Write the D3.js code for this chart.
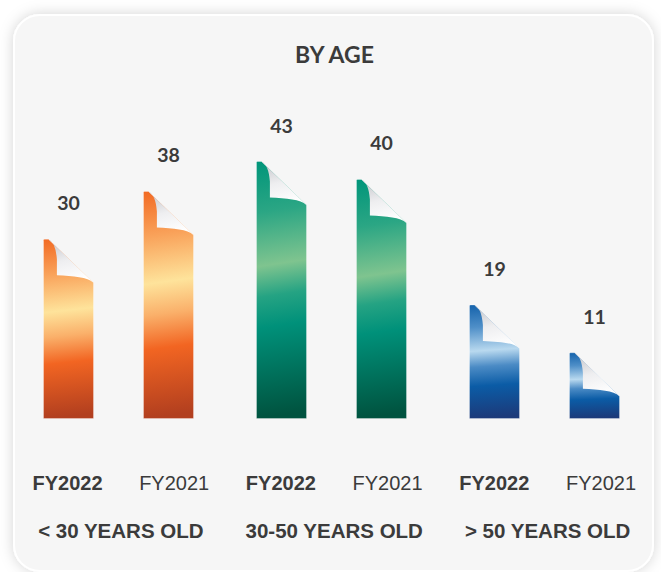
<!DOCTYPE html>
<html>
<head>
<meta charset="utf-8">
<script src="https://cdn.jsdelivr.net/npm/d3@7"></script>
<style>
  body { margin: 0; background: #ffffff; }
  svg { display: block; }
</style>
</head>
<body>
<svg id="chart"></svg>
<script>
// data
const groups = ["< 30 YEARS OLD", "30-50 YEARS OLD", "> 50 YEARS OLD"];
const years = ["FY2022", "FY2021"];
const fy2022 = [30, 43, 19];
const fy2021 = [38, 40, 11];
const title = "BY AGE";

const W = 661, H = 572;
const card = { x: 14, y: 15, w: 639, h: 556, r: 26 };
const baseY = 418.5;

const rows = [];
groups.forEach((g, i) => {
  rows.push({ group: g, year: "FY2022", value: fy2022[i], gi: i });
  rows.push({ group: g, year: "FY2021", value: fy2021[i], gi: i });
});

const svg = d3.select("#chart").attr("width", W).attr("height", H);
const defs = svg.append("defs");

// card shadow
const f = defs.append("filter").attr("id", "shadow")
  .attr("x", "-10%").attr("y", "-10%").attr("width", "120%").attr("height", "120%");
f.append("feDropShadow").attr("dx", 0).attr("dy", 0)
  .attr("stdDeviation", 7).attr("flood-color", "#000").attr("flood-opacity", 0.17);

// gradients for each age group
const palettes = [
  [[0, "#f26a23"], [0.2, "#f9a25a"], [0.41, "#fee39b"], [0.55, "#fab06a"], [0.7, "#f26522"], [1, "#b23f1f"]],
  [[0, "#00957a"], [0.2, "#2ba684"], [0.41, "#7fc48f"], [0.53, "#25a383"], [0.65, "#00917a"], [1, "#00533f"]],
  [[0, "#1462ab"], [0.2, "#4f8fc8"], [0.41, "#b9d9ef"], [0.55, "#4b8bc5"], [0.72, "#0b5ca6"], [1, "#1c3a7a"]]
];
palettes.forEach((stops, i) => {
  const lg = defs.append("linearGradient").attr("id", "grad" + i)
    .attr("x1", 0).attr("y1", 0).attr("x2", 0.03).attr("y2", 1);
  stops.forEach(s => lg.append("stop").attr("offset", s[0]).attr("stop-color", s[1]));
});
const curl = defs.append("linearGradient").attr("id", "curl")
  .attr("x1", 0.2).attr("y1", 0).attr("x2", 0.45).attr("y2", 1);
[[0, "#c4c5ca"], [0.5, "#eeeef0"], [1, "#ffffff"]].forEach(s =>
  curl.append("stop").attr("offset", s[0]).attr("stop-color", s[1]));

// card
svg.append("rect")
  .attr("x", card.x).attr("y", card.y).attr("width", card.w).attr("height", card.h)
  .attr("rx", card.r).attr("fill", "#f6f6f6")
  .attr("stroke", "#ffffff").attr("stroke-width", 2)
  .attr("filter", "url(#shadow)");

// title
svg.append("text")
  .attr("x", card.x + card.w / 2 + 1).attr("y", 63)
  .attr("text-anchor", "middle")
  .style("font-family", "Lato, sans-serif").style("font-weight", 700)
  .style("font-size", "23px").style("fill", "#3b3b3b")
  .text(title);

// scales
const x0 = d3.scaleBand().domain(groups).range([12, 651]);
const x1 = d3.scaleBand().domain(years).range([0, x0.bandwidth()])
  .paddingInner(0.5).paddingOuter(0.315);
const y = d3.scaleLinear().domain([0, 43]).range([baseY, baseY - 257]);

// bars with folded corner
function barPath(d) {
  const bx = x0(d.group) + x1(d.year), bw = x1.bandwidth(), t = y(d.value);
  const p = d3.path();
  p.moveTo(bx, baseY);
  p.lineTo(bx, t + 1);
  p.quadraticCurveTo(bx, t, bx + 1, t);
  p.lineTo(bx + 5, t);
  p.lineTo(bx + bw, t + 43.5);
  p.lineTo(bx + bw, baseY);
  p.closePath();
  return p.toString();
}
function curlPath(d) {
  const bx = x0(d.group) + x1(d.year), bw = x1.bandwidth(), t = y(d.value);
  const p = d3.path();
  p.moveTo(bx + 5, t);
  p.quadraticCurveTo(bx + 12, t + 3, bx + 13.4, t + 20);
  p.lineTo(bx + 13.4, t + 36);
  p.bezierCurveTo(bx + 30, t + 37, bx + 44, t + 37.5, bx + bw, t + 43.5);
  p.closePath();
  return p.toString();
}

const bars = svg.append("g").selectAll("g").data(rows).join("g");
bars.append("path")
  .attr("d", barPath)
  .attr("fill", d => `url(#grad${d.gi})`)
  .attr("stroke", "rgba(255,255,255,0.3)").attr("stroke-width", 1);
bars.append("path")
  .attr("d", curlPath)
  .attr("fill", "url(#curl)");

// value labels
bars.append("text")
  .attr("x", d => x0(d.group) + x1(d.year) + x1.bandwidth() / 2)
  .attr("y", d => y(d.value) - 29)
  .attr("text-anchor", "middle")
  .style("font-family", "Lato, sans-serif").style("font-weight", 700)
  .style("font-size", "19.5px").style("fill", "#3b3b3b")
  .text(d => d.value);

// year labels, evenly spaced along the bottom
const keys = rows.map(d => d.group + "|" + d.year);
const xl = d3.scalePoint().domain(keys).range([card.x + 53.5, card.x + card.w - 52]);

svg.append("g").selectAll("text").data(rows).join("text")
  .attr("x", d => xl(d.group + "|" + d.year))
  .attr("y", 490)
  .attr("text-anchor", "middle")
  .style("font-family", "'Liberation Sans', Arial, sans-serif")
  .style("font-weight", d => d.year === "FY2022" ? 700 : 400)
  .style("font-size", "20px").style("fill", "#3b3b3b")
  .text(d => d.year);

// group labels
svg.append("g").selectAll("text").data(groups).join("text")
  .attr("x", g => (xl(g + "|FY2022") + xl(g + "|FY2021")) / 2)
  .attr("y", 538)
  .attr("text-anchor", "middle")
  .style("font-family", "'Liberation Sans', Arial, sans-serif")
  .style("font-weight", 700)
  .style("font-size", "20.5px").style("fill", "#3b3b3b")
  .text(g => g);
</script>
</body>
</html>
